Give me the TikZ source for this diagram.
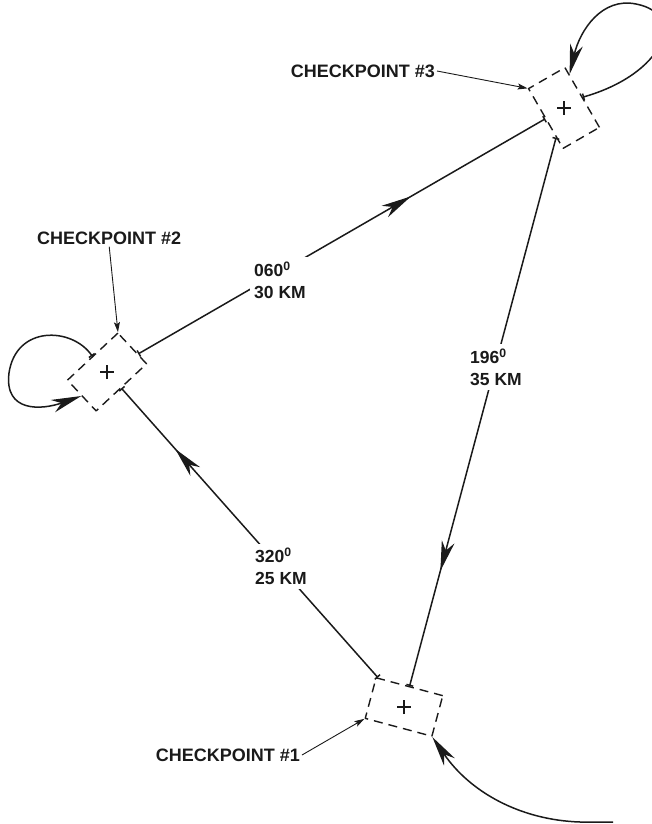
\documentclass[tikz,border=0pt]{standalone}
\usepackage{fontspec}
\setmainfont{Liberation Sans}
\usetikzlibrary{arrows.meta,decorations.markings,calc}

\begin{document}
\begin{tikzpicture}[x=1pt, y=-1pt, line join=round]
    \definecolor{inkColour}{HTML}{1A1A1A}

    \def\legWidth{1.5pt}

    \tikzset{
        checkBox/.style={draw=inkColour, line width=1.4pt, dash pattern=on 9pt off 6pt,
            minimum width=69pt, minimum height=42pt, inner sep=0pt},
        legLine/.style={draw=inkColour, line width=\legWidth, {Bar[width=7pt]}-{Bar[width=7pt]}},
        midArrow/.style={postaction={decorate}, decoration={markings,
            mark=at position #1 with {\arrow{Stealth[length=30pt,width=13pt,inset=9pt]}}}},
        loopLine/.style={draw=inkColour, line width=\legWidth, {Bar[width=7pt]}-{Stealth[length=30pt,width=13pt,inset=9pt]}},
        pointerLine/.style={draw=inkColour, line width=0.9pt, -{Stealth[length=10pt,width=6pt,inset=2pt]}},
        checkLabel/.style={font=\fontsize{18}{21}\selectfont\bfseries, text=inkColour, inner sep=2pt},
        legLabel/.style={font=\fontsize{17.5}{22}\selectfont\bfseries, text=inkColour, align=left,
            fill=white, inner sep=4pt}
    }

    \useasboundingbox (0,0) rectangle (652,824);

    % Checkpoints
    \node[checkBox, rotate=-15] (cpOne) at (404,707) {};
    \node[checkBox, rotate=43] (cpTwo) at (107,372) {};
    \node[checkBox, rotate=-60] (cpThree) at (564,108) {};

    \foreach \cp in {cpOne,cpTwo,cpThree}
        \draw[inkColour, line width=1.2pt] ([xshift=-7pt]\cp.center) -- ([xshift=7pt]\cp.center)
            ([yshift=-7pt]\cp.center) -- ([yshift=7pt]\cp.center);

    % Legs of the route
    \draw[legLine, midArrow=0.67] (cpTwo) -- (cpThree);
    \draw[legLine, midArrow=0.79] (cpThree) -- (cpOne);
    \draw[legLine, midArrow=0.79] (cpOne) -- (cpTwo);

    \node[legLabel, anchor=west] (legTwoThree) at (250,280) {060\textsuperscript{0}\\30 KM};
    \node[legLabel, anchor=west] (legThreeOne) at (466,367) {196\textsuperscript{0}\\35 KM};
    \node[legLabel, anchor=west] (legOneTwo) at (251,566) {320\textsuperscript{0}\\25 KM};

    % Turns at the checkpoints
    \draw[loopLine] (cpThree.north) .. controls (664,74) and (688,14) .. (636,4)
        .. controls (602,-3) and (580,30) .. ($(cpThree.north west)!0.25!(cpThree.north)$);
    \draw[loopLine] (cpTwo.north) .. controls (72,327) and (16,325) .. (9,373)
        .. controls (4,413) and (42,410) .. (cpTwo.west);

    \coordinate (approach) at (613,822);
    \draw[inkColour, line width=\legWidth, -{Stealth[length=30pt,width=13pt,inset=9pt]}]
        (approach) -- (580,822) .. controls (520,820) and (470,792) .. (cpOne.south east);

    % Labels
    \node[checkLabel, anchor=east] (lblThree) at (437,71) {CHECKPOINT \#3};
    \node[checkLabel, anchor=west] (lblTwo) at (35,238) {CHECKPOINT \#2};
    \node[checkLabel, anchor=east] (lblOne) at (302,755) {CHECKPOINT \#1};

    \draw[pointerLine] (lblThree.east) -- (cpThree.south west);
    \draw[pointerLine] (lblTwo.south) -- (cpTwo.north east);
    \draw[pointerLine] (lblOne.east) -- (cpOne.south west);

\end{tikzpicture}
\end{document}
